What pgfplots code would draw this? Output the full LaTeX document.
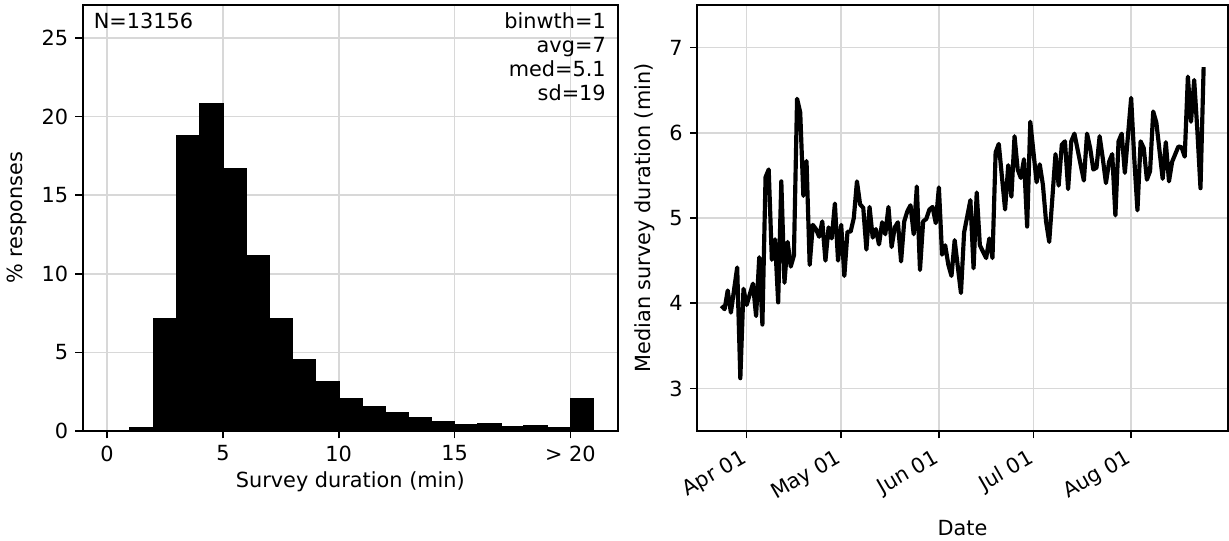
\documentclass[border=0pt]{standalone}
\usepackage{pgfplots}
\pgfplotsset{compat=1.18}
\usepackage{fontspec}
\setmainfont{DejaVu Sans}
\definecolor{gridgray}{RGB}{216,216,216}
\begin{document}
\begin{tikzpicture}
\pgfplotsset{
  mystyle/.style={
    scale only axis,
    height=204.5pt,
    axis line style={line width=0.8pt},
    every tick/.style={black, line width=0.8pt},
    major tick length=3.5pt,
    tick align=outside,
    xtick pos=left, ytick pos=left,
    grid=major,
    major grid style={line width=0.8pt, color=gridgray},
    tick label style={font=\fontsize{10}{12}\selectfont},
    label style={font=\fontsize{10}{12}\selectfont},
    /pgf/number format/assume math mode=true,
  }
}
\begin{axis}[mystyle, width=256.9pt, at={(0,0)}, anchor=south west,
  xmin=-1.05, xmax=22.05, ymin=0, ymax=27.1,
  xtick={0,5,10,15,20}, xticklabels={0,5,10,15,{> 20}},
  ytick={0,5,10,15,20,25},
  xlabel={Survey duration (min)}, ylabel={\% responses},
  xlabel style={yshift=2pt}]
\addplot[ybar interval, fill=black, draw=black, line width=0.8pt] coordinates {
(0,0) (1,0.23) (2,7.16) (3,18.77) (4,20.83) (5,16.65) (6,11.17) (7,7.11) (8,4.50) (9,3.10)
(10,2.04) (11,1.55) (12,1.19) (13,0.83) (14,0.57) (15,0.42) (16,0.45) (17,0.25) (18,0.30)
(19,0.23) (20,2.06) (21,0)};
\node[anchor=north west, inner sep=0pt, font=\fontsize{10}{12}\selectfont] at (rel axis cs:0.02,0.983) {N=13156};
\node[anchor=north east, inner sep=0pt, align=right, font=\fontsize{10}{11.5}\selectfont] at (rel axis cs:0.978,0.983) {binwth=1\\avg=7\\med=5.1\\sd=19};
\end{axis}
\begin{axis}[mystyle, width=254.6pt, at={(295pt,0)}, anchor=south west,
  xmin=-15.65, xmax=152.65, ymin=2.5, ymax=7.5,
  xtick={0,30,61,91,122}, xticklabels={Apr 01,May 01,Jun 01,Jul 01,Aug 01},
  xticklabel style={xshift=-2pt, rotate=30, anchor=north east},
  ytick={3,4,5,6,7},
  xlabel={Date}, ylabel={Median survey duration (min)}]
\addplot[black, line width=2pt, line join=round] coordinates {
(-8,3.97) (-7,3.93) (-6,4.15) (-5,3.89) (-3,4.42) (-2,3.12) (-1,4.17) (0,3.98) (2,4.23) (3,3.85)
(4,4.54) (5,3.75) (6,5.48) (7,5.57) (8,4.51) (9,4.75) (10,4.01) (11,5.43) (12,4.24) (13,4.72)
(14,4.43) (15,4.56) (16,6.40) (17,6.24) (18,5.26) (19,5.67) (20,4.45) (21,4.92) (22,4.87) (23,4.78)
(24,4.96) (25,4.50) (26,4.89) (27,4.76) (28,5.17) (29,4.50) (30,4.92) (31,4.32) (32,4.84) (33,4.84)
(34,5.00) (35,5.43) (36,5.16) (37,5.12) (38,4.63) (39,5.13) (40,4.77) (41,4.87) (42,4.69) (43,4.95)
(44,4.81) (45,5.13) (46,4.66) (47,4.89) (48,4.95) (49,4.49) (50,4.96) (51,5.08) (52,5.15) (53,4.81)
(54,5.37) (55,4.39) (56,4.96) (57,4.99) (58,5.10) (59,5.13) (60,4.94) (61,5.36) (62,4.57) (63,4.68)
(64,4.45) (65,4.32) (66,4.74) (68,4.12) (69,4.83) (71,5.21) (72,4.41) (73,5.30) (74,4.68) (76,4.53)
(77,4.76) (78,4.53) (79,5.77) (80,5.87) (82,5.10) (83,5.62) (84,5.25) (85,5.96) (86,5.57) (87,5.47)
(88,5.69) (89,4.90) (90,6.13) (92,5.42) (93,5.63) (94,5.39) (95,4.96) (96,4.72) (98,5.75) (99,5.38)
(100,5.86) (101,5.90) (102,5.34) (103,5.90) (104,5.99) (106,5.62) (107,5.44) (108,5.99) (109,5.82) (110,5.57)
(111,5.59) (112,5.96) (113,5.70) (114,5.41) (115,5.66) (116,5.75) (117,5.03) (118,5.90) (119,5.99) (120,5.53)
(122,6.41) (123,5.69) (124,5.09) (125,5.90) (126,5.82) (127,5.45) (128,5.55) (129,6.25) (130,6.12) (132,5.46)
(133,5.89) (134,5.43) (135,5.66) (137,5.84) (138,5.83) (139,5.72) (140,6.66) (141,6.13) (142,6.62) (143,6.03)
(144,5.35) (145,6.77)};
\end{axis}
\pgfresetboundingbox
\path[use as bounding box] (-39.7pt,-52.3pt) rectangle (550.2pt,206.9pt);
\end{tikzpicture}
\end{document}
